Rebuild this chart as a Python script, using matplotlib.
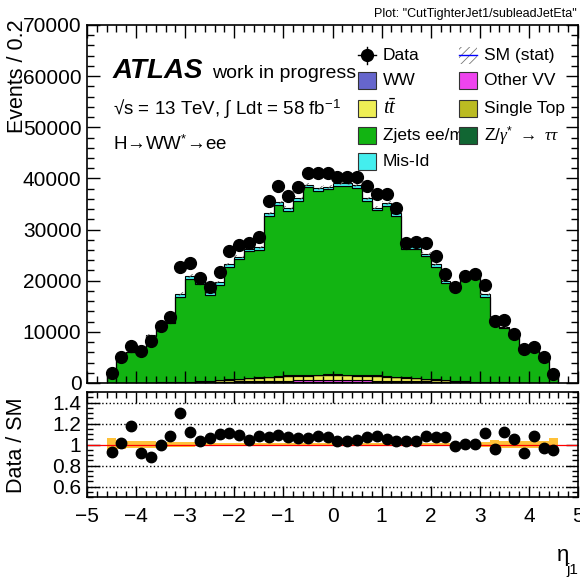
import matplotlib
matplotlib.use("Agg")
import matplotlib.pyplot as plt
from matplotlib.patches import Rectangle
from matplotlib.lines import Line2D
from matplotlib.ticker import MultipleLocator, FormatStrFormatter
import numpy as np

plt.rcParams['font.family'] = ['Liberation Sans', 'DejaVu Sans']
plt.rcParams['mathtext.fontset'] = 'custom'
plt.rcParams['mathtext.rm'] = 'Liberation Sans'
plt.rcParams['mathtext.it'] = 'Liberation Serif:italic'
plt.rcParams['mathtext.bf'] = 'Liberation Sans:bold'
plt.rcParams['hatch.linewidth'] = 0.6

# 0.2 wide bins in eta_j1 from -4.6 to 4.6
eta_edges = np.round(np.arange(-4.6, 4.61, 0.2), 1)

data = [1900, 5100, 7200, 6300, 8200, 11100, 13000, 22600, 23400, 20500, 18800, 21700,
        25800, 26900, 27300, 28600, 35500, 38500, 36600, 38400, 41100, 41100, 41100,
        40300, 40300, 40300, 38600, 37000, 37000, 34200, 27400, 27600, 27300, 24800,
        21400, 18800, 20900, 21300, 19200, 12100, 12300, 9600, 6600, 7100, 5000, 1800]

ww = [5, 10, 15, 20, 25, 35, 45, 55, 65, 80, 95, 110, 125, 140, 155, 170, 185, 200, 210, 220, 230, 235, 240,
      240, 235, 230, 220, 210, 200, 185, 170, 155, 140, 125, 110, 95, 80, 65, 55, 45, 35, 25, 20, 15, 10, 5]
other_vv = [5, 10, 15, 22, 30, 40, 50, 62, 75, 90, 105, 125, 145, 165, 185, 205, 225, 240, 255, 270, 280, 285, 290,
            290, 285, 280, 270, 255, 240, 225, 205, 185, 165, 145, 125, 105, 90, 75, 62, 50, 40, 30, 22, 15, 10, 5]
ttbar = [0, 0, 5, 10, 15, 25, 40, 60, 90, 130, 180, 260, 350, 450, 550, 640, 720, 790, 850, 900, 940, 960, 970,
         970, 960, 940, 900, 850, 790, 720, 640, 550, 450, 350, 260, 180, 130, 90, 60, 40, 25, 15, 10, 5, 0, 0]
single_top = [0, 1, 2, 3, 5, 8, 11, 15, 20, 26, 34, 42, 52, 62, 72, 82, 90, 98, 105, 110, 115, 118, 120,
              120, 118, 115, 110, 105, 98, 90, 82, 72, 62, 52, 42, 34, 26, 20, 15, 11, 8, 5, 3, 2, 1, 0]
ztautau = [4, 7, 10, 13, 16, 19, 22, 25, 28, 31, 34, 37, 40, 42, 45, 48, 50, 52, 54, 56, 58, 60, 60,
           60, 60, 58, 56, 54, 52, 50, 48, 45, 42, 40, 37, 34, 31, 28, 25, 22, 19, 16, 13, 10, 7, 4]
zjets = [1980, 4920, 5930, 6630, 9030, 10870, 11580, 16630, 20120, 19090, 16850, 18680,
         21990, 23340, 24740, 24860, 31380, 33370, 32180, 34090, 36630, 35890, 36170,
         36870, 36890, 36580, 33990, 32280, 33270, 31380, 24960, 25290, 23940, 21990,
         18980, 18150, 20090, 20320, 16530, 12180, 10670, 8830, 6980, 6430, 5070, 1840]
misid = [50, 100, 120, 150, 180, 200, 250, 600, 550, 450, 400, 450, 500, 500, 500, 500, 550, 550, 550, 550, 550, 550, 550,
         550, 550, 550, 550, 550, 550, 550, 500, 500, 500, 500, 450, 400, 450, 550, 600, 250, 200, 180, 150, 120, 100, 50]
# relative MC statistical uncertainty per bin
mc_stat_rel = [0.06, 0.04, 0.035, 0.035, 0.03, 0.025, 0.025, 0.02, 0.02, 0.015, 0.015, 0.015,
               0.012, 0.012, 0.012, 0.01, 0.01, 0.01, 0.01, 0.01, 0.01, 0.01, 0.01,
               0.01, 0.01, 0.01, 0.01, 0.01, 0.01, 0.01, 0.01, 0.012, 0.012, 0.012,
               0.012, 0.012, 0.012, 0.015, 0.02, 0.04, 0.03, 0.03, 0.03, 0.03, 0.035, 0.06]

stack = [
    (ww, '#6666cc', 'WW'),
    (other_vv, '#ee44ee', 'Other VV'),
    (ttbar, '#eeee55', r'$t\bar{t}$'),
    (single_top, '#bbbb22', 'Single Top'),
    (ztautau, '#116633', r'Z/$\gamma^{*}$ $\rightarrow$ $\tau\tau$'),
    (zjets, '#12b412', 'Zjets ee/mm'),
    (misid, '#44eeee', 'Mis-Id'),
]

centers = 0.5 * (eta_edges[:-1] + eta_edges[1:])
data = np.array(data, dtype=float)
rel = np.array(mc_stat_rel)

fig = plt.figure(figsize=(5.8, 5.77), dpi=100)
ax = fig.add_axes([87/580, 1-383/577, 491/580, 358/577])
rax = fig.add_axes([87/580, 1-497/577, 491/580, 105/577])

bottom = np.zeros(len(centers))
for vals, col, lab in stack:
    vals = np.array(vals, dtype=float)
    ax.stairs(bottom + vals, eta_edges, baseline=bottom.copy(), fill=True,
              facecolor=col, edgecolor='black', lw=0.8)
    bottom = bottom + vals
total = bottom

ax.stairs(total * (1 + rel), eta_edges, baseline=total * (1 - rel), fill=True,
          facecolor='none', edgecolor='#666666', hatch='////', lw=0)
ax.errorbar(centers, data, yerr=np.sqrt(data), fmt='o', color='black', ms=8.5,
            lw=1, capsize=0, zorder=6)

ax.set_xlim(-5, 5)
ax.set_ylim(0, 70000)
ax.yaxis.set_major_locator(MultipleLocator(10000))
ax.yaxis.set_minor_locator(MultipleLocator(2000))
ax.xaxis.set_major_locator(MultipleLocator(1))
ax.xaxis.set_minor_locator(MultipleLocator(0.2))
ax.tick_params(which='both', direction='in', top=True, right=True, labelbottom=False,
               labelsize=15, pad=4)
ax.tick_params(which='major', length=9, width=1)
ax.tick_params(which='minor', length=5, width=1)

# ratio panel
ratio = data / total
rax.stairs(1 + rel, eta_edges, baseline=1 - rel, fill=True, facecolor='#ffbb22',
           alpha=0.9, lw=0)
rax.axhline(1, color='red', lw=0.9)
for g in [0.6, 0.8, 1.2, 1.4]:
    rax.axhline(g, color='black', ls=':', lw=1)
rax.errorbar(centers, ratio, yerr=np.sqrt(data) / total, fmt='o', color='black',
             ms=7.5, lw=1, capsize=0, zorder=6)
rax.set_xlim(-5, 5)
rax.set_ylim(0.5, 1.5)
rax.yaxis.set_major_locator(MultipleLocator(0.2))
rax.yaxis.set_minor_locator(MultipleLocator(0.05))
rax.yaxis.set_major_formatter(FormatStrFormatter('%g'))
rax.xaxis.set_major_locator(MultipleLocator(1))
rax.xaxis.set_minor_locator(MultipleLocator(0.2))
rax.tick_params(which='both', direction='in', top=True, right=True, labelsize=15)
rax.tick_params(axis='x', which='major', length=8, width=1, pad=7)
rax.tick_params(axis='x', which='minor', length=4.5, width=1)
rax.tick_params(axis='y', which='major', length=9, width=1, pad=4)
rax.tick_params(axis='y', which='minor', length=4.5, width=1)

for a in (ax, rax):
    for s in a.spines.values():
        s.set_linewidth(1.2)

# axis titles
fig.text(18/580, 1-19/577, 'Events / 0.2', rotation=90, ha='center', va='top', size=15.5)
fig.text(17/580, 1-445/577, 'Data / SM', rotation=90, ha='center', va='center', size=15.5)
fig.text(557/580, 1-561/577, 'η', ha='left', va='baseline', size=16)
fig.text(566/580, 1-574/577, 'j1', ha='left', va='baseline', size=11)
fig.text(577/580, 1-14/577, 'Plot: "CutTighterJet1/subleadJetEta"', ha='right',
         va='center', size=9)

# ATLAS labels
ax.text(0.053, 0.852, 'ATLAS', transform=ax.transAxes, weight='bold', style='italic',
        size=20, va='baseline')
ax.text(0.255, 0.852, 'work in progress', transform=ax.transAxes, size=14, va='baseline')
ax.text(0.053, 0.749, '√s = 13 TeV, ∫ Ldt = 58 fb$^{-1}$', transform=ax.transAxes,
        size=13.5, va='baseline')
ax.text(0.053, 0.651, 'H→WW$^{*}$→ee', transform=ax.transAxes,
        size=13.5, va='baseline')

# legend drawn by hand, two columns as in the original
bw, bh = 18/491, 17/358
rows = [0.916, 0.844, 0.768, 0.690, 0.620]
lx_box, lx_txt = 0.552, 0.603
rx_box, rx_txt = 0.758, 0.809
left_col = [None, stack[0], stack[2], stack[5], stack[6]]
right_col = [None, stack[1], stack[3], stack[4]]


def entry_size(label):
    return 15 if 'bar' in label else 12.5


for i, ent in enumerate(left_col):
    y = rows[i]
    if ent is None:
        ax.add_line(Line2D([lx_box, lx_box + bw], [y, y], transform=ax.transAxes,
                           color='black', lw=1, zorder=7))
        ax.add_line(Line2D([lx_box + bw/2]*2, [y - bh/2, y + bh/2], transform=ax.transAxes,
                           color='black', lw=1, zorder=7))
        ax.plot([lx_box + bw/2], [y], 'o', color='black', ms=8.5, transform=ax.transAxes,
                zorder=7)
        ax.text(lx_txt, y, 'Data', transform=ax.transAxes, size=12.5, va='center', zorder=4)
    else:
        ax.add_patch(Rectangle((lx_box, y - bh/2), bw, bh, transform=ax.transAxes,
                               facecolor=ent[1], edgecolor='#333333', lw=0.8, zorder=7))
        ax.text(lx_txt, y, ent[2], transform=ax.transAxes, size=entry_size(ent[2]),
                va='center', zorder=4)

for i, ent in enumerate(right_col):
    y = rows[i]
    if ent is None:
        ax.add_patch(Rectangle((rx_box, y - bh/2), bw, bh, transform=ax.transAxes,
                               facecolor='white', edgecolor='#777777', hatch='////',
                               lw=0, zorder=7))
        ax.add_line(Line2D([rx_box, rx_box + bw], [y, y], transform=ax.transAxes,
                           color='blue', lw=1, zorder=8))
        ax.text(rx_txt, y, 'SM (stat)', transform=ax.transAxes, size=12.5, va='center',
                zorder=4)
    else:
        ax.add_patch(Rectangle((rx_box, y - bh/2), bw, bh, transform=ax.transAxes,
                               facecolor=ent[1], edgecolor='#333333', lw=0.8, zorder=7))
        ax.text(rx_txt, y, ent[2], transform=ax.transAxes, size=entry_size(ent[2]),
                va='center', zorder=4)

fig.savefig('out.png', dpi=100)
